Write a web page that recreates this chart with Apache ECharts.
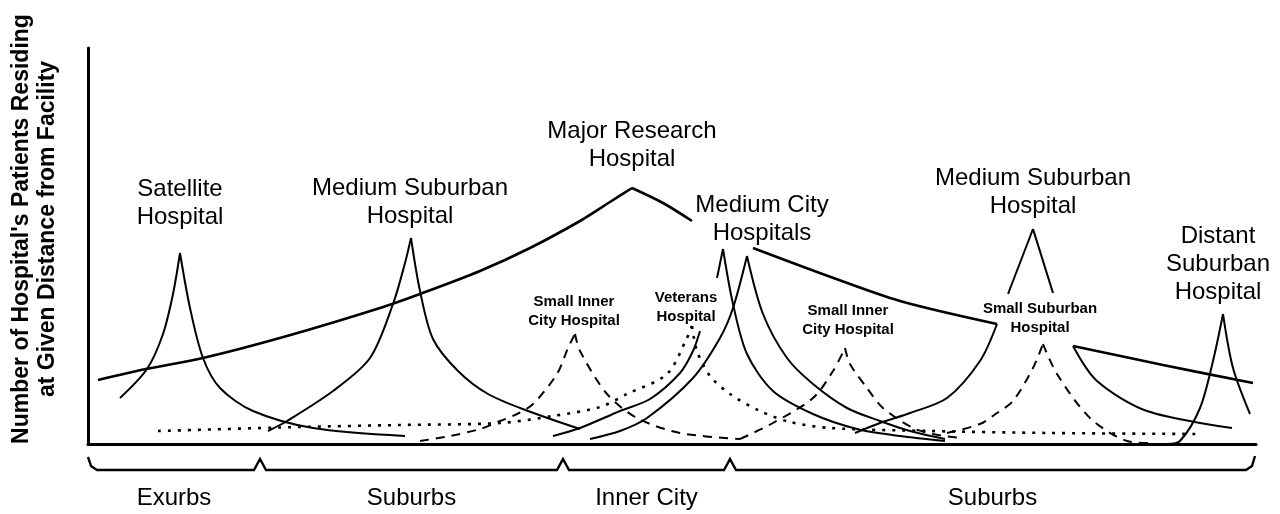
<!DOCTYPE html>
<html>
<head>
<meta charset="utf-8">
<script src="https://cdn.jsdelivr.net/npm/echarts/dist/echarts.min.js"></script>
<style>
  html, body { margin: 0; background: #fff; }
  #chart { width: 1280px; height: 514px; }
</style>
</head>
<body>
<div id="chart"></div>
<script>
var satelliteLeft = [[32,46],[59,75],[75,110],[85,150],[92,191]];
var satelliteRight = [[92,191],[102,136],[115,86],[132,56],[165,33],[225,16],[317,8]];

var suburbWestLeft = [[180,13],[199,23],[245,53],[282,86],[305,140],[317,181],[323,206]];
var suburbWestRight = [[323,206],[332,153],[345,105],[370,73],[400,50],[440,33],[492,15]];

var researchLeft = [[10,64],[58,75],[115,86],[199,108],[292,136],[332,150],[392,173],[442,196],[492,223],[522,242],[544,256]];
var researchRightA = [[544,256],[575,241],[604,223]];
var researchRightB = [[665,196],[740,168],[812,143],[909,120]];
var researchRightC = [[985,98],[1075,79],[1165,61]];

var innerWestLeft = [[332,3],[362,8],[392,15],[412,23],[429,30],[445,40],[469,70],[480,96],[487,110]];
var innerWestRight = [[487,110],[492,93],[519,50],[549,26],[592,11],[652,5]];
var innerEastLeft = [[652,5],[685,21],[725,46],[745,73],[757,96]];
var innerEastRight = [[757,96],[762,80],[779,56],[795,36],[825,16],[845,10],[872,6]];

var veteransLeft = [[70,13],[212,17],[312,19],[412,21],[465,28],[512,37],[539,50],[579,70],[599,106],[604,118]];
var veteransRight = [[604,118],[609,93],[622,68],[642,50],[672,33],[702,22],[742,16],[842,13],[962,11],[1112,10]];

var cityALeft = [[465,8],[492,16],[532,33],[562,45],[592,71],[605,93],[612,113]];
var cityAPeak = [[629,166],[635,195]];
var cityARight = [[635,195],[645,140],[659,90],[685,53],[725,30],[769,15],[812,8],[857,3]];
var cityBLeft = [[502,5],[532,13],[559,26],[605,66],[632,106],[645,136],[659,188]];
var cityBRight = [[659,188],[675,130],[699,86],[725,60],[759,36],[792,23],[822,13],[857,5]];

var suburbEastPeakL = [[920,150],[945,215]];
var suburbEastPeakR = [[945,215],[965,151]];
var suburbEastLeft = [[767,11],[792,21],[822,31],[859,46],[892,83],[909,120]];
var suburbEastRight = [[985,98],[1009,63],[1059,33],[1144,16]];

var smallSuburbLeft = [[859,11],[892,20],[909,31],[925,43],[945,76],[955,100]];
var smallSuburbRight = [[955,100],[969,70],[1002,26],[1039,3],[1062,1]];

var distantLeft = [[1079,0],[1092,3],[1112,36],[1125,83],[1135,130]];
var distantRight = [[1135,130],[1145,76],[1162,30]];

// hospital names and where they sit
var bigNames = ['Satellite\nHospital', 'Medium Suburban\nHospital', 'Major Research\nHospital',
  'Medium City\nHospitals', 'Medium Suburban\nHospital', 'Distant\nSuburban\nHospital'];
var bigPos = [[92,241],[322,242],[544,299],[674,225],[945,252],[1130,180]];
var smallNames = ['Small Inner\nCity Hospital', 'Veterans\nHospital', 'Small Inner\nCity Hospital', 'Small Suburban\nHospital'];
var smallPos = [[486,133],[598,137],[760,124],[952,126]];

// zones under the axis
var zones = ['Exurbs', 'Suburbs', 'Inner City', 'Suburbs'];
var zoneBounds = [0, 172, 475, 642, 1167];

var FONT = '"Liberation Sans", Arial, Helvetica, sans-serif';

var curves = [
  [satelliteLeft, 'solid'], [satelliteRight, 'solid'],
  [suburbWestLeft, 'solid'], [suburbWestRight, 'solid'],
  [researchLeft, 'heavy'], [researchRightA, 'heavy'], [researchRightB, 'heavy'], [researchRightC, 'heavy'],
  [innerWestLeft, 'dashed'], [innerWestRight, 'dashed'],
  [innerEastLeft, 'dashed'], [innerEastRight, 'dashed'],
  [veteransLeft, 'dotted'], [veteransRight, 'dotted'],
  [cityALeft, 'solid'], [cityAPeak, 'solid'], [cityARight, 'solid'],
  [cityBLeft, 'solid'], [cityBRight, 'solid'],
  [suburbEastPeakL, 'solid'], [suburbEastPeakR, 'solid'],
  [suburbEastLeft, 'solid'], [suburbEastRight, 'solid'],
  [smallSuburbLeft, 'dashed'], [smallSuburbRight, 'dashed'],
  [distantLeft, 'solid'], [distantRight, 'solid']
];

var styles = {
  solid: { type: 'solid', width: 2 },
  heavy: { type: 'solid', width: 2.6 },
  dashed: { type: [9, 7], width: 2 },
  dotted: { type: [3, 7], width: 2.6 }
};

var series = [];
for (var i = 0; i < curves.length; i++) {
  series.push({
    type: 'line',
    data: curves[i][0],
    smooth: 0.3,
    symbol: 'none',
    silent: true,
    lineStyle: Object.assign({ color: '#000' }, styles[curves[i][1]])
  });
}

function labelSeries(names, pos, size, lh, weight) {
  var data = [];
  for (var k = 0; k < names.length; k++) data.push({ name: names[k], value: pos[k] });
  return {
    type: 'scatter',
    symbolSize: 0,
    silent: true,
    z: 5,
    data: data,
    itemStyle: { opacity: 1 },
    label: {
      show: true, position: 'inside', formatter: function (p) { return p.name; },
      fontFamily: FONT, fontSize: size, lineHeight: lh, fontWeight: weight,
      color: '#000', opacity: 1
    }
  };
}
series.push(labelSeries(bigNames, bigPos, 24, 28, 'normal'));
series.push(labelSeries(smallNames, smallPos, 15, 19, 'bold'));

var chart = echarts.init(document.getElementById('chart'));
chart.setOption({
  animation: false,
  backgroundColor: '#fff',
  grid: { left: 88, right: 24, top: 48, bottom: 70 },
  xAxis: {
    type: 'value', min: 0, max: 1168,
    axisLine: { show: true, lineStyle: { color: '#000', width: 3 } },
    axisTick: { show: false }, axisLabel: { show: false }, splitLine: { show: false }
  },
  yAxis: {
    type: 'value', min: 0, max: 396,
    axisLine: { show: true, lineStyle: { color: '#000', width: 3 } },
    axisTick: { show: false }, axisLabel: { show: false }, splitLine: { show: false }
  },
  series: series
});

// brace and zone names under the x axis
var axisY = chart.convertToPixel({ gridIndex: 0 }, [0, 0])[1];
var px = zoneBounds.map(function (b) { return chart.convertToPixel({ gridIndex: 0 }, [b, 0])[0]; });
var by = axisY + 26, ty = axisY + 15;
var pts = [[px[0], ty - 2], [px[0] + 3, by - 4], [px[0] + 9, by]];
for (var j = 1; j < px.length - 1; j++) {
  pts.push([px[j] - 6, by], [px[j], ty], [px[j] + 6, by]);
}
var last = px[px.length - 1];
pts.push([last - 9, by], [last - 3, by - 4], [last, ty - 3]);

var graphics = [{
  type: 'polyline', silent: true,
  shape: { points: pts },
  style: { stroke: '#000', lineWidth: 2.4, fill: null }
}, {
  type: 'text', silent: true, x: 35, y: 229, rotation: Math.PI / 2,
  style: {
    text: "Number of Hospital's Patients Residing\nat Given Distance from Facility",
    fontFamily: FONT, fontSize: 23, fontWeight: 'bold', lineHeight: 26,
    align: 'center', verticalAlign: 'middle', fill: '#000'
  }
}];
for (var z = 0; z < zones.length; z++) {
  graphics.push({
    type: 'text', silent: true,
    x: (px[z] + px[z + 1]) / 2, y: axisY + 54,
    style: { text: zones[z], fontFamily: FONT, fontSize: 24, align: 'center', verticalAlign: 'middle', fill: '#000' }
  });
}
chart.setOption({ graphic: graphics });
</script>
</body>
</html>
